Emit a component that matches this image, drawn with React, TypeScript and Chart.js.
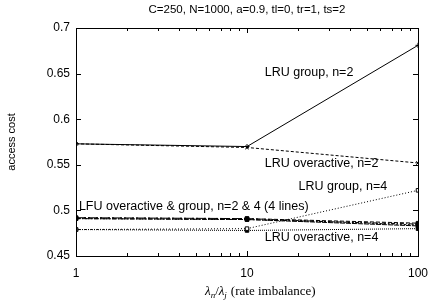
import React, { useEffect, useRef } from "react";
import { Chart, registerables } from "chart.js";

Chart.register(...registerables);

const xValues = [1, 10, 100];
const lruGroupN2 = [0.573, 0.570, 0.681];
const lruOverN2 = [0.573, 0.569, 0.552];
const lruGroupN4 = [0.479, 0.480, 0.522];
const lruOverN4 = [0.479, 0.478, 0.480];
const lfuA = [0.492, 0.491, 0.486];
const lfuB = [0.491, 0.490, 0.485];
const lfuC = [0.492, 0.491, 0.484];
const lfuD = [0.491, 0.490, 0.483];
const yTicks = [0.45, 0.5, 0.55, 0.6, 0.65, 0.7];
const xTicks = [1, 10, 100];
const titleText = "C=250, N=1000, a=0.9, tl=0, tr=1, ts=2";
const yTitle = "access cost";

const annotations = [
  { text: "LRU group, n=2", x: 12.7, y: 0.651, align: "left" },
  { text: "LRU overactive, n=2", x: 12.7, y: 0.551, align: "left" },
  { text: "LRU group, n=4", x: 66, y: 0.526, align: "right" },
  { text: "LFU overactive & group, n=2 & 4 (4 lines)", x: 1.04, y: 0.504, align: "left" },
  { text: "LRU overactive, n=4", x: 12.7, y: 0.470, align: "left" },
];

const SANS = "'Liberation Sans', Arial, sans-serif";
const SERIF = "'Liberation Serif', 'Times New Roman', serif";

function pts(vals: number[]) {
  return vals.map((v, i) => ({ x: xValues[i], y: v }));
}

const decorPlugin = {
  id: "decor",
  afterDraw(chart: any) {
    const ctx = chart.ctx;
    const { left, right, top, bottom } = chart.chartArea;
    const xs = chart.scales.x;
    const ys = chart.scales.y;
    ctx.save();
    ctx.strokeStyle = "#000";
    ctx.lineWidth = 1;
    ctx.strokeRect(Math.round(left) + 0.5, Math.round(top) + 0.5, Math.round(right - left), Math.round(bottom - top));
    ctx.beginPath();
    yTicks.forEach((v) => {
      const py = Math.round(ys.getPixelForValue(v)) + 0.5;
      ctx.moveTo(left, py);
      ctx.lineTo(left + 5, py);
      ctx.moveTo(right, py);
      ctx.lineTo(right - 5, py);
    });
    for (let d = 1; d <= 100; d *= 10) {
      for (let m = 1; m <= 9; m++) {
        const v = d * m;
        if (v > 100) break;
        const px = Math.round(xs.getPixelForValue(v)) + 0.5;
        const len = m === 1 ? 5 : 3;
        ctx.moveTo(px, bottom);
        ctx.lineTo(px, bottom - len);
        ctx.moveTo(px, top);
        ctx.lineTo(px, top + len);
      }
    }
    ctx.stroke();

    ctx.fillStyle = "#000";
    ctx.font = `11.5px ${SANS}`;
    ctx.textAlign = "center";
    ctx.textBaseline = "middle";
    ctx.fillText(titleText, (left + right) / 2, 10);

    ctx.save();
    ctx.translate(12, (top + bottom) / 2);
    ctx.rotate(-Math.PI / 2);
    ctx.font = `11px ${SANS}`;
    ctx.fillText(yTitle, 0, 0);
    ctx.restore();

    ctx.textAlign = "left";
    ctx.textBaseline = "alphabetic";
    let cx = 205;
    const base = 295;
    ctx.font = `italic 13px ${SERIF}`;
    ctx.fillText("λ", cx, base);
    cx += ctx.measureText("λ").width;
    ctx.font = `italic 9px ${SERIF}`;
    ctx.fillText("n", cx, base + 3);
    cx += ctx.measureText("n").width;
    ctx.font = `13px ${SERIF}`;
    ctx.fillText("/", cx, base);
    cx += ctx.measureText("/").width;
    ctx.font = `italic 13px ${SERIF}`;
    ctx.fillText("λ", cx, base);
    cx += ctx.measureText("λ").width;
    ctx.font = `italic 9px ${SERIF}`;
    ctx.fillText("j", cx, base + 3);
    cx += ctx.measureText("j").width + 4;
    ctx.font = `13px ${SERIF}`;
    ctx.fillText("(rate imbalance)", cx, base);

    ctx.font = `12.5px ${SANS}`;
    ctx.textBaseline = "middle";
    annotations.forEach((a) => {
      ctx.textAlign = a.align as CanvasTextAlign;
      ctx.fillText(a.text, xs.getPixelForValue(a.x), ys.getPixelForValue(a.y));
    });
    ctx.restore();
  },
};

export default function App() {
  const ref = useRef<HTMLCanvasElement | null>(null);
  useEffect(() => {
    document.body.style.margin = "0";
    const canvas = ref.current!;
    const base = {
      borderColor: "#000",
      backgroundColor: "#000",
      borderWidth: 1,
      pointRadius: 2.5,
      pointBorderWidth: 1,
      fill: false,
      tension: 0,
    };
    const chart = new Chart(canvas, {
      type: "line",
      data: {
        datasets: [
          { ...base, label: "LRU group, n=2", data: pts(lruGroupN2), pointStyle: "cross" },
          { ...base, label: "LRU overactive, n=2", data: pts(lruOverN2), borderDash: [3, 2], pointStyle: "crossRot" },
          { ...base, label: "LRU group, n=4", data: pts(lruGroupN4), borderDash: [1, 2], pointStyle: "rect", backgroundColor: "#fff" },
          { ...base, label: "LRU overactive, n=4", data: pts(lruOverN4), borderDash: [1, 1], pointStyle: "rect" },
          { ...base, label: "LFU a", data: pts(lfuA), borderDash: [4, 2], pointStyle: "rect" },
          { ...base, label: "LFU b", data: pts(lfuB), borderDash: [4, 2, 1, 2], pointStyle: "rect" },
          { ...base, label: "LFU c", data: pts(lfuC), borderDash: [2, 2], pointStyle: "rect" },
          { ...base, label: "LFU d", data: pts(lfuD), borderDash: [5, 1], pointStyle: "rect" },
        ],
      },
      options: {
        animation: false,
        responsive: false,
        maintainAspectRatio: false,
        layout: { padding: { top: 28, right: 12, left: 0, bottom: 0 } },
        plugins: { legend: { display: false }, title: { display: false }, tooltip: { enabled: false } },
        scales: {
          x: {
            type: "logarithmic",
            min: 1,
            max: 100,
            grid: { display: false, drawTicks: false },
            border: { display: false },
            afterBuildTicks: (s: any) => {
              s.ticks = xTicks.map((v) => ({ value: v }));
            },
            afterFit: (s: any) => {
              s.height = 52;
              s.paddingLeft = 0;
              s.paddingRight = 0;
            },
            ticks: {
              color: "#000",
              font: { family: SANS, size: 12 },
              padding: 10,
              maxRotation: 0,
              autoSkip: false,
              callback: (v: any) => String(v),
            },
          },
          y: {
            min: 0.45,
            max: 0.7,
            grid: { display: false, drawTicks: false },
            border: { display: false },
            afterBuildTicks: (s: any) => {
              s.ticks = yTicks.map((v) => ({ value: v }));
            },
            afterFit: (s: any) => {
              s.width = 76;
              s.paddingTop = 0;
              s.paddingBottom = 0;
            },
            ticks: {
              color: "#000",
              font: { family: SANS, size: 12 },
              padding: 6,
              callback: (v: any) => String(Math.round(Number(v) * 100) / 100),
            },
          },
        },
      },
      plugins: [decorPlugin],
    } as any);
    return () => chart.destroy();
  }, []);
  return <canvas ref={ref} width={430} height={308} style={{ display: "block" }} />;
}
